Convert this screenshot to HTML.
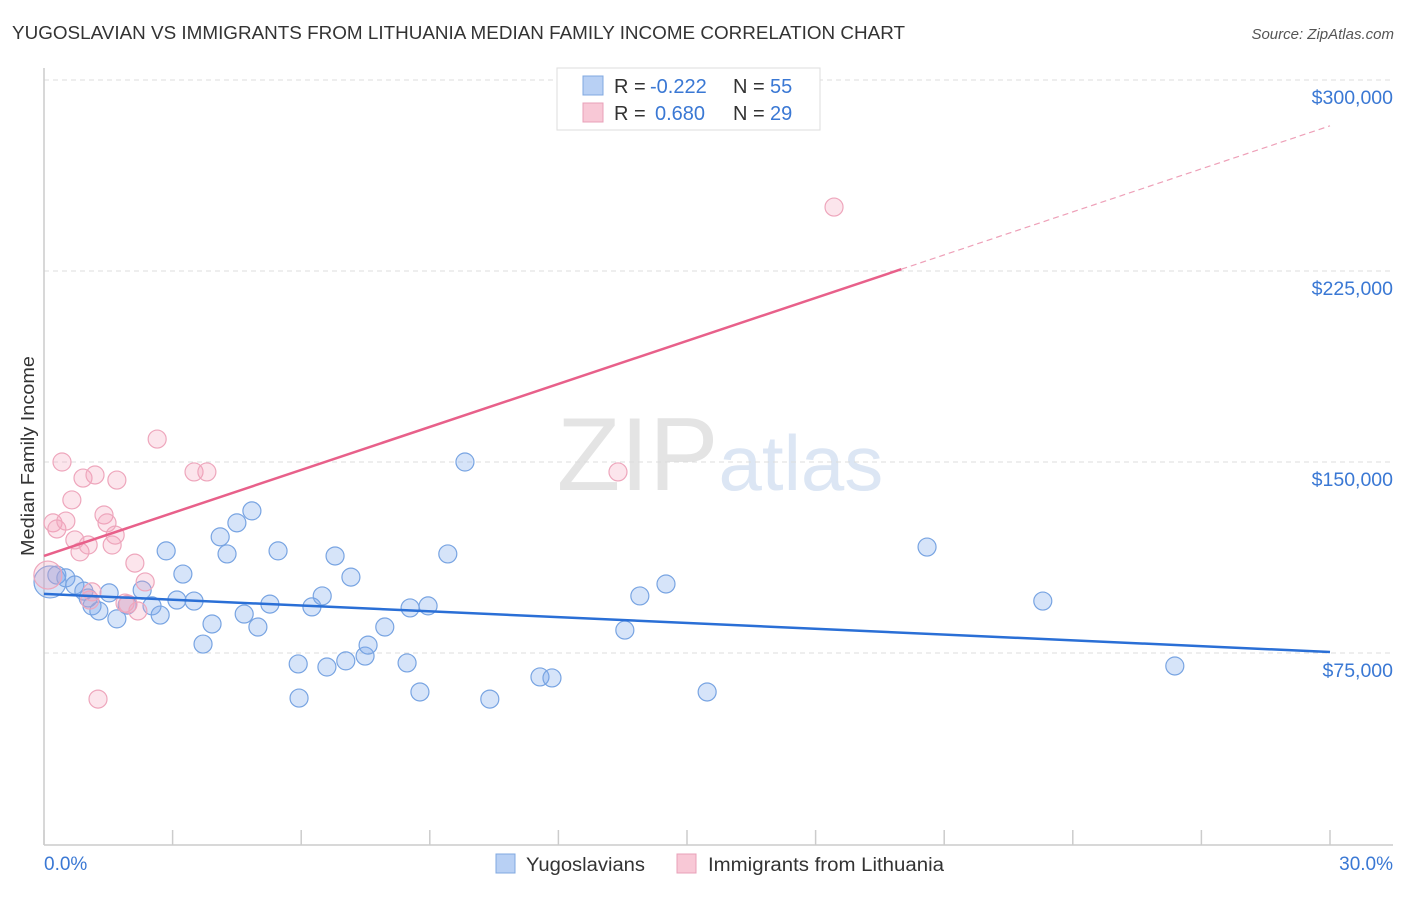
<!DOCTYPE html>
<html><head><meta charset="utf-8"><style>
body{margin:0;background:#fff;font-family:"Liberation Sans",sans-serif;}
svg text{font-family:"Liberation Sans",sans-serif;}
</style></head><body>
<svg id="chart" width="1406" height="892" xmlns="http://www.w3.org/2000/svg">
<text x="12" y="39" font-size="18" fill="#333" textLength="893" lengthAdjust="spacingAndGlyphs">YUGOSLAVIAN VS IMMIGRANTS FROM LITHUANIA MEDIAN FAMILY INCOME CORRELATION CHART</text>
<text x="1394" y="39" font-size="15" fill="#555" text-anchor="end" font-style="italic">Source: ZipAtlas.com</text>
<text x="720" y="490" font-size="104" fill="#e4e4e4" text-anchor="middle" font-family="Liberation Serif">ZIP<tspan fill="#dce6f4" font-family="Liberation Sans" font-size="78">atlas</tspan></text>
<g id="grid"></g>
<line x1="44" y1="68" x2="44" y2="845" stroke="#ccc" stroke-width="1.5"/>
<line x1="44" y1="845" x2="1393" y2="845" stroke="#ccc" stroke-width="1.5"/>
<g id="xticks"></g>
<text transform="translate(34,456) rotate(-90)" font-size="18" fill="#333" text-anchor="middle" textLength="200" lengthAdjust="spacingAndGlyphs">Median Family Income</text>
<text x="44" y="870" font-size="19" fill="#3a78d4">0.0%</text>
<text x="1393" y="870" font-size="19" fill="#3a78d4" text-anchor="end">30.0%</text>
<g id="pts"></g>
<g id="lines"></g>
<g>
<rect x="557" y="68" width="263" height="62" fill="#fff" stroke="#ddd"/>
<rect x="583" y="76" width="20" height="19" fill="#b8d0f4" stroke="#80a8e0"/>
<rect x="583" y="103" width="20" height="19" fill="#f8c8d6" stroke="#e8a0b8"/>
<text x="614" y="93" font-size="20" fill="#333">R = <tspan fill="#3a78d4" x="650">-0.222</tspan><tspan x="733">N = </tspan><tspan fill="#3a78d4" x="770">55</tspan></text>
<text x="614" y="120" font-size="20" fill="#333">R = <tspan fill="#3a78d4" x="655">0.680</tspan><tspan x="733">N = </tspan><tspan fill="#3a78d4" x="770">29</tspan></text>
</g>
<g>
<rect x="496" y="854" width="19" height="19" fill="#b8d0f4" stroke="#80a8e0"/>
<text x="526" y="871" font-size="19" fill="#333" textLength="119" lengthAdjust="spacingAndGlyphs">Yugoslavians</text>
<rect x="677" y="854" width="19" height="19" fill="#f8c8d6" stroke="#e8a0b8"/>
<text x="708" y="871" font-size="19" fill="#333" textLength="236" lengthAdjust="spacingAndGlyphs">Immigrants from Lithuania</text>
</g>
</svg>
<script>
const yTicks=[75000,150000,225000,300000];
const yTickLabels=["$75,000","$150,000","$225,000","$300,000"];
const xTicks=[0,3,6,9,12,15,18,21,24,27,30];
const blueX=[0.14,0.30,0.51,0.72,0.93,1.03,1.12,1.28,1.52,1.70,1.94,2.29,2.52,2.71,2.85,3.10,3.24,3.50,3.71,3.92,4.11,4.27,4.50,4.67,4.85,4.99,5.27,5.46,5.93,5.95,6.25,6.49,6.60,6.79,7.04,7.16,7.49,7.56,7.95,8.47,8.54,8.77,8.96,9.42,9.82,10.40,11.57,11.85,13.55,13.90,14.51,15.47,20.60,23.30,26.38];
const blueY=[102.9,105.6,104.5,101.7,99.3,96.6,93.5,91.5,98.6,88.4,93.8,99.7,93.5,89.9,115.1,95.8,106.0,95.4,78.5,86.4,120.6,113.9,126.1,90.3,130.8,85.2,94.2,115.1,70.7,57.3,93.1,97.4,69.5,113.1,71.9,104.8,73.8,78.1,85.2,71.1,92.7,59.7,93.5,113.9,150.0,56.9,65.6,65.2,84.0,97.4,102.1,59.7,116.6,95.4,69.9];
const pinkX=[0.09,0.21,0.30,0.42,0.51,0.65,0.72,0.84,0.91,1.03,1.07,1.12,1.19,1.26,1.40,1.47,1.59,1.66,1.70,1.89,1.96,2.12,2.19,2.36,2.64,3.50,3.80,13.39,18.43];
const pinkY=[105.6,126.1,123.7,150.0,126.8,135.1,119.4,114.7,143.7,117.4,95.8,99.0,144.9,56.9,129.2,126.1,117.4,121.3,142.9,94.6,94.2,110.3,91.5,102.9,159.0,146.1,146.1,146.1,250.1];
const blueTrend=[98.2,75.4];
const pinkTrend=[113.1,282.0];
const pinkSolidEnd=20.0;
const X=v=>44+v/30*1286;
const Y=k=>653-(k-75)/75*191;
const NS="http://www.w3.org/2000/svg";
function mk(tag,attrs,parent){const e=document.createElementNS(NS,tag);for(const a in attrs)e.setAttribute(a,attrs[a]);parent.appendChild(e);return e;}
const grid=document.getElementById('grid');
yTicks.forEach((t,i)=>{const y=Y(t/1000);
const l=mk('line',{x1:44,x2:1393,y1:y,y2:y,stroke:'#ddd','stroke-dasharray':'5,4'},grid);


const tx=mk('text',{x:1393,y:y+24,'font-size':19.5,fill:'#3a78d4','text-anchor':'end'},grid);
tx.textContent=yTickLabels[i];

});
const xt=document.getElementById('xticks');
xTicks.forEach(t=>{const l=mk('line',{x1:X(t),x2:X(t),y1:830,y2:845,stroke:'#ccc','stroke-width':1.5},xt);

});
const pts=document.getElementById('pts');
blueX.forEach((x,i)=>{const c=mk('circle',{cx:X(x),cy:Y(blueY[i]),r:i===0?16:9,fill:'rgba(120,165,235,0.3)',stroke:'#78a4e2','stroke-width':1.2},pts);

});
pinkX.forEach((x,i)=>{const c=mk('circle',{cx:X(x),cy:Y(pinkY[i]),r:i===0?14:9,fill:'rgba(245,160,185,0.28)',stroke:'#eea6bc','stroke-width':1.2},pts);

});
const lines=document.getElementById('lines');
const pAt=x=>pinkTrend[0]+(pinkTrend[1]-pinkTrend[0])*x/30;
let l1=mk('line',{x1:X(0),y1:Y(blueTrend[0]),x2:X(30),y2:Y(blueTrend[1]),stroke:'#2a6fd6','stroke-width':2.5},lines);


let l2=mk('line',{x1:X(0),y1:Y(pAt(0)),x2:X(pinkSolidEnd),y2:Y(pAt(pinkSolidEnd)),stroke:'#e8608a','stroke-width':2.5},lines);


let l3=mk('line',{x1:X(pinkSolidEnd),y1:Y(pAt(pinkSolidEnd)),x2:X(30),y2:Y(pAt(30)),stroke:'#eea0b8','stroke-width':1.2,'stroke-dasharray':'6,4'},lines);


</script>
</body></html>
